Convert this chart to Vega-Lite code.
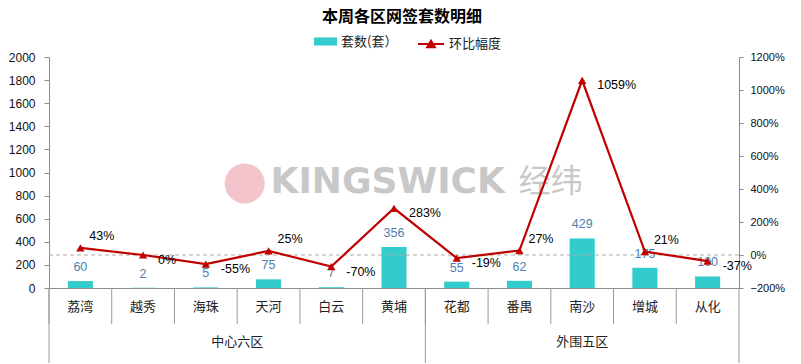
{
  "$schema": "https://vega.github.io/schema/vega-lite/v6.json",
  "width": 690,
  "height": 231,
  "padding": {"left": 8, "top": 9, "right": 5, "bottom": 0},
  "background": "white",
  "config": {
    "view": {"stroke": null},
    "font": "Noto Sans CJK SC",
    "axisLeft": {"labelFont": "Liberation Sans", "labelFontSize": 12, "labelColor": "#111111", "domainColor": "#8c8c8c", "tickColor": "#8c8c8c", "tickSize": 5, "labelPadding": 9, "grid": false},
    "axisRight": {"labelFont": "Liberation Sans", "labelFontSize": 11, "labelColor": "#111111", "domainColor": "#8c8c8c", "tickColor": "#8c8c8c", "tickSize": 4, "labelPadding": 7, "grid": false},
    "axisBottom": {"labelFont": "Noto Sans CJK SC", "labelFontSize": 13, "labelColor": "#222222", "domainColor": "#8c8c8c", "ticks": false, "labelPadding": 12, "labelAngle": 0, "grid": false}
  },
  "title": {"text": "本周各区网签套数明细", "fontSize": 16, "fontWeight": "bold", "font": "Noto Sans CJK SC", "color": "#000000", "dx": 8, "offset": 5},
  "data": {"values": [
    {"district": "荔湾", "count": 60, "pct": 0.43},
    {"district": "越秀", "count": 2, "pct": 0.0},
    {"district": "海珠", "count": 5, "pct": -0.55},
    {"district": "天河", "count": 75, "pct": 0.25},
    {"district": "白云", "count": 7, "pct": -0.70},
    {"district": "黄埔", "count": 356, "pct": 2.83},
    {"district": "花都", "count": 55, "pct": -0.19},
    {"district": "番禺", "count": 62, "pct": 0.27},
    {"district": "南沙", "count": 429, "pct": 10.59},
    {"district": "增城", "count": 175, "pct": 0.21},
    {"district": "从化", "count": 100, "pct": -0.37}
  ]},
  "layer": [
    {
      "layer": [
        {
          "data": {"values": [{}]},
          "mark": {"type": "point", "filled": true, "shape": "circle", "size": 1600, "color": "#F4C4CC", "opacity": 1},
          "encoding": {
            "x": {"datum": "天河", "type": "nominal", "bandPosition": 0.12, "scale": {"domain": ["荔湾","越秀","海珠","天河","白云","黄埔","花都","番禺","南沙","增城","从化"], "paddingInner": 0, "paddingOuter": 0}, "axis": {"title": null, "ticks": false, "labelPadding": 12, "labelAngle": 0}},
            "y": {"datum": 905, "type": "quantitative", "scale": {"domain": [0, 2000], "nice": false, "zero": true}, "axis": {"title": null, "orient": "left", "values": [0, 200, 400, 600, 800, 1000, 1200, 1400, 1600, 1800, 2000], "format": "d"}}
          }
        },
        {
          "data": {"values": [{}]},
          "mark": {"type": "text", "text": "KINGSWICK", "font": "DejaVu Sans", "fontWeight": "bold", "fontSize": 36, "color": "#C8C8C8", "align": "center", "baseline": "middle"},
          "encoding": {"x": {"datum": "黄埔", "type": "nominal", "bandPosition": 0.4}, "y": {"datum": 918, "type": "quantitative", "axis": {"title": null, "orient": "left", "values": [0, 200, 400, 600, 800, 1000, 1200, 1400, 1600, 1800, 2000], "format": "d"}}}
        },
        {
          "data": {"values": [{}]},
          "mark": {"type": "text", "text": "经纬", "font": "Noto Sans CJK SC", "fontSize": 32, "color": "#C8C8C8", "align": "center", "baseline": "middle"},
          "encoding": {"x": {"datum": "南沙", "type": "nominal", "bandPosition": 0.0}, "y": {"datum": 918, "type": "quantitative", "axis": {"title": null, "orient": "left", "values": [0, 200, 400, 600, 800, 1000, 1200, 1400, 1600, 1800, 2000], "format": "d"}}}
        },
        {
          "mark": {"type": "bar", "color": "#33CCCC", "width": {"band": 0.4}},
          "encoding": {
            "x": {"field": "district", "type": "nominal"},
            "y": {"field": "count", "type": "quantitative", "axis": {"title": null, "orient": "left", "values": [0, 200, 400, 600, 800, 1000, 1200, 1400, 1600, 1800, 2000], "format": "d"}},
            "fill": {"datum": "套数(套）", "scale": {"range": ["#33CCCC"]},
              "legend": {"title": null, "orient": "none", "legendX": 265, "legendY": -27, "symbolType": "M-1,-0.35H1V0.35H-1Z", "symbolSize": 529, "symbolStrokeWidth": 0, "labelFont": "Noto Sans CJK SC", "labelFontSize": 13, "labelColor": "#222222"}}
          }
        },
        {
          "mark": {"type": "text", "baseline": "bottom", "dy": -7, "font": "Liberation Sans", "fontSize": 12.5, "color": "#4E7FB0"},
          "encoding": {"x": {"field": "district", "type": "nominal", "bandPosition": 0.5}, "y": {"field": "count", "type": "quantitative", "axis": {"title": null, "orient": "left", "values": [0, 200, 400, 600, 800, 1000, 1200, 1400, 1600, 1800, 2000], "format": "d"}}, "text": {"field": "count", "type": "quantitative"}}
        },
        {
          "mark": {"type": "rule", "color": "#9a9a9a", "strokeWidth": 1},
          "encoding": {"x": {"field": "district", "type": "nominal", "bandPosition": 0}, "y": {"datum": 0, "type": "quantitative", "axis": {"title": null, "orient": "left", "values": [0, 200, 400, 600, 800, 1000, 1200, 1400, 1600, 1800, 2000], "format": "d"}}, "y2": {"datum": -312}}
        },
        {
          "transform": [{"filter": "datum.district == '荔湾' || datum.district == '花都'"}],
          "mark": {"type": "rule", "color": "#9a9a9a", "strokeWidth": 1},
          "encoding": {"x": {"field": "district", "type": "nominal", "bandPosition": 0}, "y": {"datum": 0, "type": "quantitative", "axis": {"title": null, "orient": "left", "values": [0, 200, 400, 600, 800, 1000, 1200, 1400, 1600, 1800, 2000], "format": "d"}}, "y2": {"datum": -650}}
        },
        {
          "data": {"values": [{}]},
          "mark": {"type": "rule", "color": "#9a9a9a", "strokeWidth": 1},
          "encoding": {"x": {"datum": "从化", "type": "nominal", "bandPosition": 1}, "y": {"datum": 0, "type": "quantitative", "axis": {"title": null, "orient": "left", "values": [0, 200, 400, 600, 800, 1000, 1200, 1400, 1600, 1800, 2000], "format": "d"}}, "y2": {"datum": -650}}
        },
        {
          "data": {"values": [{}]},
          "mark": {"type": "text", "text": "中心六区", "font": "Noto Sans CJK SC", "fontSize": 13, "color": "#222222", "align": "center", "baseline": "middle"},
          "encoding": {"x": {"datum": "天河", "type": "nominal", "bandPosition": 0}, "y": {"datum": -468, "type": "quantitative", "axis": {"title": null, "orient": "left", "values": [0, 200, 400, 600, 800, 1000, 1200, 1400, 1600, 1800, 2000], "format": "d"}}}
        },
        {
          "data": {"values": [{}]},
          "mark": {"type": "text", "text": "外围五区", "font": "Noto Sans CJK SC", "fontSize": 13, "color": "#222222", "align": "center", "baseline": "middle"},
          "encoding": {"x": {"datum": "南沙", "type": "nominal", "bandPosition": 0.5}, "y": {"datum": -468, "type": "quantitative", "axis": {"title": null, "orient": "left", "values": [0, 200, 400, 600, 800, 1000, 1200, 1400, 1600, 1800, 2000], "format": "d"}}}
        }
      ]
    },
    {
      "layer": [
        {
          "data": {"values": [{}]},
          "mark": {"type": "rule", "color": "#ababab", "strokeDash": [4, 3], "strokeWidth": 1},
          "encoding": {"y": {"datum": 0, "type": "quantitative", "scale": {"domain": [-2, 12], "nice": false, "zero": false}, "axis": {"title": null, "orient": "right", "values": [-2, 0, 2, 4, 6, 8, 10, 12], "format": ".0%"}}}
        },
        {
          "mark": {"type": "line", "strokeWidth": 2.2},
          "encoding": {
            "x": {"field": "district", "type": "nominal", "bandPosition": 0.5},
            "y": {"field": "pct", "type": "quantitative", "axis": {"title": null, "orient": "right", "values": [-2, 0, 2, 4, 6, 8, 10, 12], "format": ".0%"}},
            "stroke": {"datum": "环比幅度", "scale": {"range": ["#C00000"]},
              "legend": {"title": null, "orient": "none", "legendX": 368, "legendY": -27, "symbolType": "M-1,0H1M-0.3,0.25L0,-0.25L0.3,0.25Z", "symbolSize": 676, "symbolStrokeWidth": 2, "symbolFillColor": "#C00000", "labelFont": "Noto Sans CJK SC", "labelFontSize": 13, "labelColor": "#222222"}}
          }
        },
        {
          "mark": {"type": "point", "shape": "triangle-up", "filled": true, "size": 70, "color": "#C00000", "opacity": 1},
          "encoding": {"x": {"field": "district", "type": "nominal", "bandPosition": 0.5}, "y": {"field": "pct", "type": "quantitative", "axis": {"title": null, "orient": "right", "values": [-2, 0, 2, 4, 6, 8, 10, 12], "format": ".0%"}}}
        },
        {
          "transform": [{"filter": "datum.pct > 0 && datum.pct < 1"}],
          "mark": {"type": "text", "align": "left", "baseline": "middle", "dx": 9, "dy": -12, "font": "Liberation Sans", "fontSize": 12.5, "color": "#000000", "text": {"expr": "replace(format(datum.pct, '.0%'), '\u2212', '-')"}},
          "encoding": {"x": {"field": "district", "type": "nominal", "bandPosition": 0.5}, "y": {"field": "pct", "type": "quantitative", "axis": {"title": null, "orient": "right", "values": [-2, 0, 2, 4, 6, 8, 10, 12], "format": ".0%"}}}
        },
        {
          "transform": [{"filter": "!(datum.pct > 0 && datum.pct < 1)"}],
          "mark": {"type": "text", "align": "left", "baseline": "middle", "dx": 15, "dy": 5, "font": "Liberation Sans", "fontSize": 12.5, "color": "#000000", "text": {"expr": "replace(format(datum.pct, '.0%'), '\u2212', '-')"}},
          "encoding": {"x": {"field": "district", "type": "nominal", "bandPosition": 0.5}, "y": {"field": "pct", "type": "quantitative", "axis": {"title": null, "orient": "right", "values": [-2, 0, 2, 4, 6, 8, 10, 12], "format": ".0%"}}}
        }
      ]
    }
  ],
  "resolve": {"scale": {"y": "independent"}}
}
